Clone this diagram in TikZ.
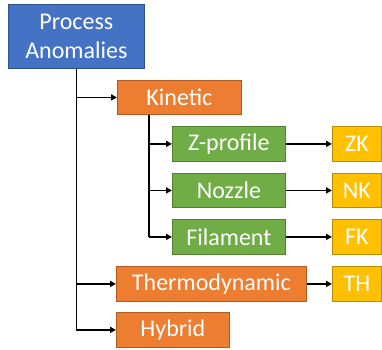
\documentclass[tikz,border=0pt]{standalone}
\usepackage{fontspec}
\setmainfont{Carlito}
\usetikzlibrary{arrows.meta}
\definecolor{cblue}{HTML}{4472C4}
\definecolor{cblueb}{HTML}{2F528F}
\definecolor{corange}{HTML}{ED7D31}
\definecolor{corangeb}{HTML}{AE5A21}
\definecolor{cgreen}{HTML}{70AD47}
\definecolor{cgreenb}{HTML}{507E32}
\definecolor{cgold}{HTML}{FFC000}
\definecolor{cgoldb}{HTML}{BC8C00}
\tikzset{
  box/.style={anchor=north west, inner sep=0pt, text=white, line width=0.8pt,
    font=\fontsize{24}{29}\selectfont, align=center},
  bluebox/.style={box, fill=cblue, draw=cblueb},
  orangebox/.style={box, fill=corange, draw=corangeb},
  greenbox/.style={box, fill=cgreen, draw=cgreenb},
  goldbox/.style={box, fill=cgold, draw=cgoldb},
  conn/.style={line width=1.8pt, black},
  arr/.style={conn, -{Triangle[length=6pt,width=6pt]}}
}
\begin{document}
\begin{tikzpicture}[x=1pt,y=-1pt]
\useasboundingbox (0,0) rectangle (382,349);
\node[bluebox, minimum width=136pt, minimum height=64pt] (pa) at (8,4) {Process\\Anomalies};
\node[orangebox, minimum width=124pt, minimum height=34pt] (kin) at (117,80) {Kinetic};
\node[greenbox, minimum width=113pt, minimum height=35pt] (zp) at (172,126) {Z-profile};
\node[greenbox, minimum width=113pt, minimum height=34pt] (nz) at (172,173) {Nozzle};
\node[greenbox, minimum width=113pt, minimum height=35pt] (fl) at (172,219) {Filament};
\node[goldbox, minimum width=49pt, minimum height=35pt] (zk) at (332,126) {ZK};
\node[goldbox, minimum width=49pt, minimum height=34pt] (nk) at (332,173) {NK};
\node[goldbox, minimum width=49pt, minimum height=35pt] (fk) at (332,219) {FK};
\node[orangebox, minimum width=190pt, minimum height=35pt] (th) at (116,266) {Thermodynamic};
\node[goldbox, minimum width=49pt, minimum height=35pt] (tk) at (332,266) {TH};
\node[orangebox, minimum width=113pt, minimum height=35pt] (hy) at (116,312) {Hybrid};
% main trunk
\draw[conn] (pa.south) -- (pa.south |- hy.west);
\draw[arr] (pa.south |- kin.west) -- (kin.west);
\draw[arr] (pa.south |- th.west) -- (th.west);
\draw[arr] (pa.south |- hy.west) -- (hy.west);
% kinetic branch
\coordinate (kb) at ([xshift=32pt]kin.south west);
\draw[conn] (kb) -- (kb |- fl.west);
\draw[arr] (kb |- zp.west) -- (zp.west);
\draw[arr] (kb |- nz.west) -- (nz.west);
\draw[arr] (kb |- fl.west) -- (fl.west);
% leaves
\draw[arr] (zp.east) -- (zk.west);
\draw[arr] (nz.east) -- (nk.west);
\draw[arr] (fl.east) -- (fk.west);
\draw[arr] (th.east) -- (tk.west);
\end{tikzpicture}
\end{document}
